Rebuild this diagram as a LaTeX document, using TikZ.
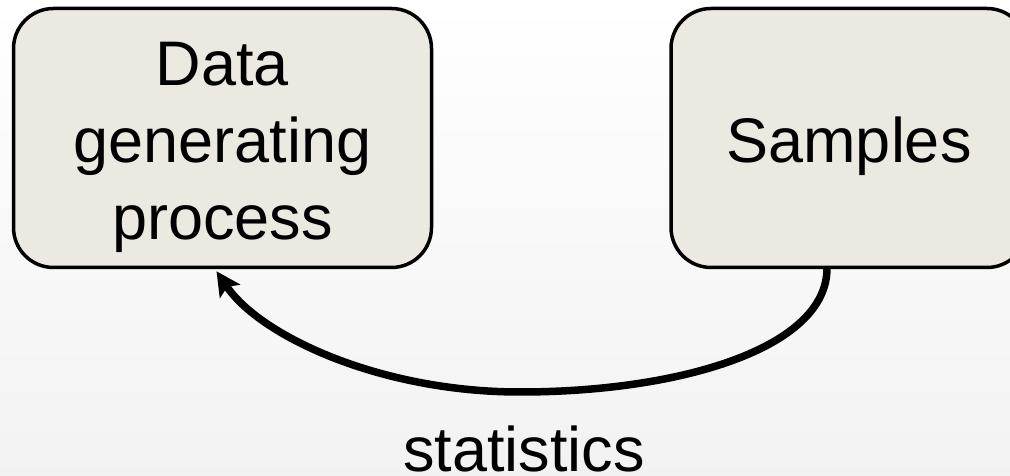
\documentclass[tikz,border=0pt]{standalone}
\usepackage{fontspec}
\setmainfont{Liberation Sans}
\usetikzlibrary{arrows.meta,calc}
\definecolor{boxfill}{RGB}{236,233,224}
\tikzset{
  procbox/.style={draw=black, line width=3.5pt, fill=boxfill, rounded corners=40pt, inner sep=0pt},
  bigtext/.style={font=\fontsize{63}{77}\selectfont, align=center, inner sep=0pt},
  flow/.style={line width=7.5pt, -{Stealth[length=24pt,width=24pt,inset=5pt]}}
}
\begin{document}
\begin{tikzpicture}[x=1pt,y=1pt]
\useasboundingbox (0,0) rectangle (1010,476);
\shade[top color=white, bottom color=black!5] (0,0) rectangle (1010,476);
\begin{scope}
\clip (0,0) rectangle (1010,476);
\node[procbox, minimum width=418pt, minimum height=259pt] (dgp) at (222.5,338) {};
\node[procbox, minimum width=356pt, minimum height=259pt] (smp) at (849,338) {};
\end{scope}
\node[bigtext] (dgpt) at ([yshift=-9pt]dgp.center) {Data\\generating\\process};
\node[bigtext] (smpt) at ([yshift=-8.5pt]smp.center) {Samples};
\node[bigtext, anchor=base] (stat) at (524,4) {statistics};
\coordinate (s) at ([xshift=-22pt,yshift=1pt]smp.south);
\coordinate (bot) at (520,84);
\coordinate (e) at ([xshift=-6pt,yshift=-2pt]dgp.south);
\draw[flow] (s) .. controls ([yshift=-80pt]s) and (680,84) .. (bot)
  .. controls (380,84) and (260,140) .. (e);
\end{tikzpicture}
\end{document}
